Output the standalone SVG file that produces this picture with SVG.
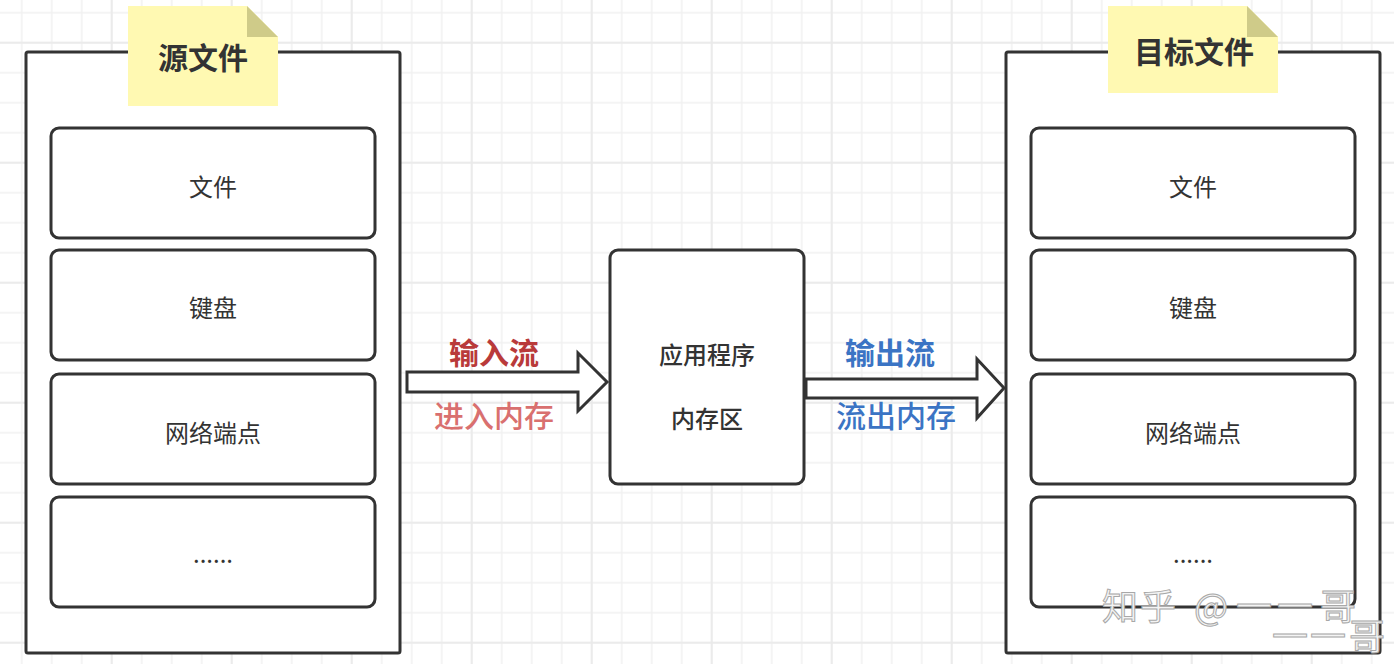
<svg xmlns="http://www.w3.org/2000/svg" width="1394" height="664" viewBox="0 0 1394 664">
<defs>
<pattern id="minor" patternUnits="userSpaceOnUse" x="6.7" y="-2.3" width="30" height="30">
<path d="M15 0V30M0 15H30" stroke="#f1f1f1" stroke-width="1.5" fill="none"/>
</pattern>
<pattern id="major" patternUnits="userSpaceOnUse" x="51.7" y="-17.3" width="120" height="120">
<path d="M60 0V120M0 60H120" stroke="#e9e9e9" stroke-width="1.5" fill="none"/>
</pattern>
</defs>
<style>
.box{fill:#fff;stroke:#333;stroke-width:3}
.note{fill:#fff9b2}
.fold{fill:#cfcb89}
.title{font-family:"Noto Sans CJK SC","Noto Sans",sans-serif;font-size:30px;font-weight:bold;fill:#333;text-anchor:middle;dominant-baseline:central}
.item{font-family:"Noto Sans CJK SC","Noto Sans",sans-serif;font-size:24px;fill:#333;text-anchor:middle;dominant-baseline:central}
.mid{font-family:"Noto Sans CJK SC","Noto Sans",sans-serif;font-size:24px;font-weight:500;fill:#333;text-anchor:middle;dominant-baseline:central}
.lbl{font-family:"Noto Sans CJK SC","Noto Sans",sans-serif;font-size:30px;text-anchor:middle;dominant-baseline:central}
.arrow{fill:#fff;stroke:#333;stroke-width:3;stroke-linejoin:miter}
.wm{font-family:"Noto Sans CJK SC","Noto Sans",sans-serif;font-size:36px;fill:#f4f4f4;stroke:#a8a8a8;stroke-width:1}
</style>
<rect width="1394" height="664" fill="#fff"/>
<rect width="1394" height="664" fill="url(#minor)"/>
<rect width="1394" height="664" fill="url(#major)"/>

<g id="source">
<rect class="box" x="26" y="52" width="374" height="601" rx="2"/>
<polygon class="note" points="128,6 247,6 278,37 278,106 128,106"/>
<polygon class="fold" points="247,6 247,37 278,37"/>
<text class="title" x="203" y="56">源文件</text>
</g>
<g id="src-file">
<rect class="box" x="51" y="128" width="324" height="110" rx="8"/>
<text class="item" x="213" y="185">文件</text>
</g>
<g id="src-keyboard">
<rect class="box" x="51" y="250" width="324" height="110" rx="8"/>
<text class="item" x="213" y="306">键盘</text>
</g>
<g id="src-network">
<rect class="box" x="51" y="374" width="324" height="110" rx="8"/>
<text class="item" x="213" y="431">网络端点</text>
</g>
<g id="src-more">
<rect class="box" x="51" y="497" width="324" height="110" rx="8"/>
<text class="item" x="213" y="552">......</text>
</g>

<g id="app">
<rect class="box" x="610" y="250" width="194" height="234" rx="8"/>
<text class="mid" x="707" y="353">应用程序</text>
<text class="mid" x="707" y="417">内存区</text>
</g>

<g id="target">
<rect class="box" x="1006" y="52" width="374" height="601" rx="2"/>
<polygon class="note" points="1108,6 1247,6 1278,37 1278,93 1108,93"/>
<polygon class="fold" points="1247,6 1247,37 1278,37"/>
<text class="title" x="1194" y="50">目标文件</text>
</g>
<g id="dst-file">
<rect class="box" x="1031" y="128" width="324" height="110" rx="8"/>
<text class="item" x="1193" y="185">文件</text>
</g>
<g id="dst-keyboard">
<rect class="box" x="1031" y="250" width="324" height="110" rx="8"/>
<text class="item" x="1193" y="306">键盘</text>
</g>
<g id="dst-network">
<rect class="box" x="1031" y="374" width="324" height="110" rx="8"/>
<text class="item" x="1193" y="431">网络端点</text>
</g>
<g id="dst-more">
<rect class="box" x="1031" y="497" width="324" height="110" rx="8"/>
<text class="item" x="1193" y="552">......</text>
</g>

<g id="connectors">
<polygon class="arrow" points="407,372 578,372 578,353 607,382 578,411 578,392 407,392"/>
<text class="lbl" x="494" y="351" fill="#b93a3a" font-weight="bold">输入流</text>
<text class="lbl" x="494" y="414" fill="#d9706f" font-weight="500">进入内存</text>
<polygon class="arrow" points="806,379 977,379 977,359 1004,388 977,418 977,398 806,398"/>
<text class="lbl" x="890" y="351" fill="#3b74c4" font-weight="bold">输出流</text>
<text class="lbl" x="896" y="414" fill="#3b74c4" font-weight="500">流出内存</text>
</g>

<g id="watermark">
<text class="wm" y="620"><tspan x="1102">知</tspan><tspan x="1140">乎</tspan><tspan x="1194">@</tspan><tspan x="1236">一</tspan><tspan x="1277">一</tspan><tspan x="1320">哥</tspan></text>
<text class="wm" y="650" font-size="34"><tspan x="1272">一</tspan><tspan x="1310">一</tspan><tspan x="1349">哥</tspan></text>
</g>
</svg>
